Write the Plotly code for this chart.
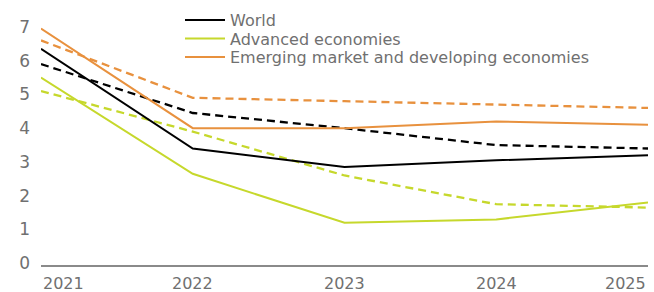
import plotly.graph_objects as go

years = [2021, 2022, 2023, 2024, 2025]
world = [6.35, 3.4, 2.85, 3.05, 3.2]
world_prev = [5.9, 4.45, 4.0, 3.5, 3.4]
adv = [5.5, 2.65, 1.2, 1.3, 1.8]
adv_prev = [5.1, 3.9, 2.6, 1.75, 1.65]
emde = [6.95, 4.0, 4.0, 4.2, 4.1]
emde_prev = [6.6, 4.9, 4.8, 4.7, 4.6]

names = ["World", "Advanced economies", "Emerging market and developing economies"]
BLACK = "#000000"
LIME = "#c6d82c"
ORANGE = "#e8913e"
TEXT = "#707070"
FONT = "DejaVu Sans"

fig = go.Figure()
# dashed (previous forecast), no legend
for vals, col in [(emde_prev, ORANGE), (world_prev, BLACK), (adv_prev, LIME)]:
    fig.add_trace(go.Scatter(x=years, y=vals, mode="lines", showlegend=False,
                             line=dict(color=col, width=2.3, dash="8px,5px")))
legs = ["legend", "legend2", "legend3"]
for vals, col, nm, lg in [(world, BLACK, names[0], legs[0]), (adv, LIME, names[1], legs[1]),
                          (emde, ORANGE, names[2], legs[2])]:
    fig.add_trace(go.Scatter(x=years, y=vals, mode="lines", name=nm, legend=lg,
                             line=dict(color=col, width=2)))

for i, yr in enumerate(years):
    anchor = "left" if i == 0 else ("right" if i == len(years) - 1 else "center")
    fig.add_annotation(x=yr, y=0, yref="paper", yshift=-18, text=str(yr), showarrow=False,
                       xanchor=anchor, yanchor="middle",
                       font=dict(family=FONT, size=16, color=TEXT))

leg_common = dict(xanchor="left", yanchor="middle", bgcolor="rgba(0,0,0,0)",
                  font=dict(family=FONT, size=16, color=TEXT), borderwidth=0, itemwidth=40)
H = 254.4
LX = 0.229
fig.update_layout(
    width=654, height=292,
    margin=dict(l=41, r=6, t=10, b=27, autoexpand=False),
    paper_bgcolor="white", plot_bgcolor="white",
    font=dict(family=FONT, color=TEXT),
    xaxis=dict(range=[2021, 2025], showgrid=False, zeroline=False, showticklabels=False,
               showline=True, linecolor="#8a8a8a", linewidth=1.5, ticks="", automargin=False),
    yaxis=dict(range=[-0.05, 7.5], tickvals=[0, 1, 2, 3, 4, 5, 6, 7], showgrid=False,
               zeroline=False, showline=False, ticks="", ticklabelstandoff=10, automargin=False,
               tickfont=dict(family=FONT, size=17, color=TEXT)),
    legend=dict(x=LX, y=1 - (20 - 10) / H, **leg_common),
    legend2=dict(x=LX, y=1 - (38.5 - 10) / H, **leg_common),
    legend3=dict(x=LX, y=1 - (57 - 10) / H, **leg_common),
)

fig.write_html("out.html", config={"displayModeBar": False},
               post_script="document.body.style.margin='0';document.body.style.padding='0';")
